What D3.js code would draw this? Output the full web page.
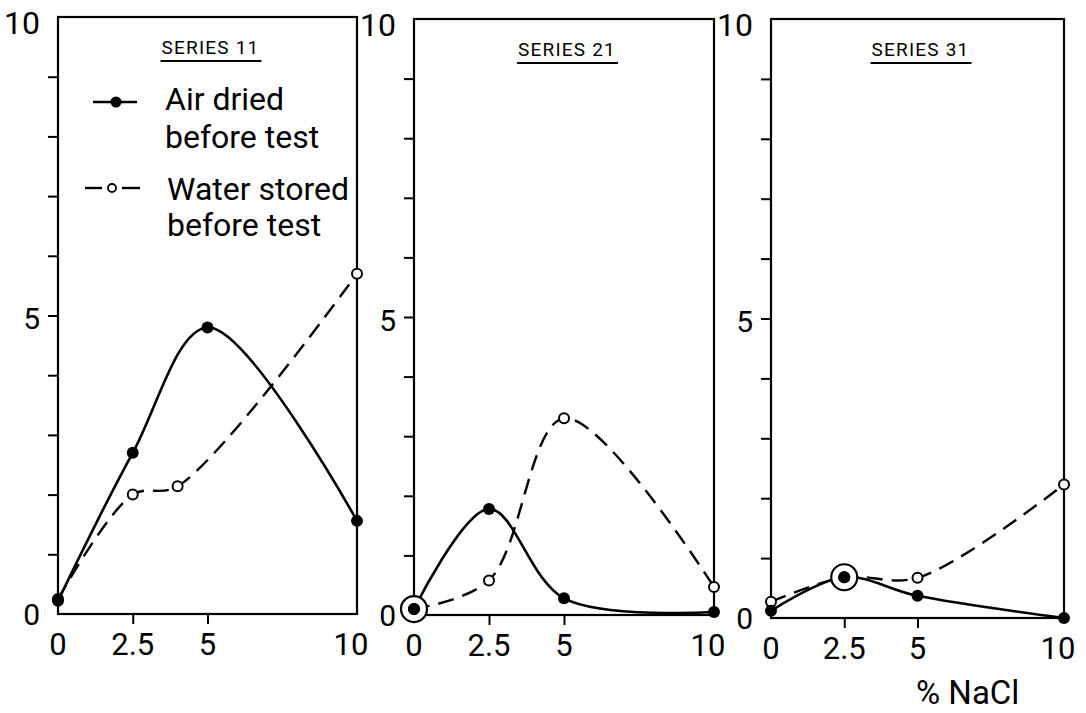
<!DOCTYPE html>
<html>
<head>
<meta charset="utf-8">
<script src="https://cdn.jsdelivr.net/npm/d3@7"></script>
<style>
  html, body { margin: 0; padding: 0; background: #fff; }
  svg { display: block; }
  text { font-family: Roboto, "DejaVu Sans", sans-serif; font-weight: 400; fill: #000; }
</style>
</head>
<body>
<svg id="chart" width="1086" height="713"></svg>
<script>
// ---- data ----
const nacl = [0, 2.5, 5, 10];
const xTickLabels = ["0", "2.5", "5", "10"];
const yTickLabels = ["0", "5", "10"];
const seriesNames = ["SERIES 11", "SERIES 21", "SERIES 31"];
const legendLabels = [["Air dried", "before test"], ["Water stored", "before test"]];
const xLabel = "% NaCl";

// Series 11
const s11AirX = [0, 2.5, 5, 10];
const s11Air = [0.22, 2.7, 4.8, 1.56];
const s11WaterX = [0, 2.5, 4, 10];
const s11Water = [0.25, 2.0, 2.14, 5.7];
// Series 21
const s21AirX = [0, 2.5, 5, 10];
const s21Air = [0.1, 1.78, 0.28, 0.05];
const s21WaterX = [0, 2.5, 5, 10];
const s21Water = [0.1, 0.58, 3.3, 0.47];
// Series 31
const s31AirX = [0, 2.5, 5, 10];
const s31Air = [0.12, 0.68, 0.37, 0.0];
const s31WaterX = [0, 2.5, 5, 10];
const s31Water = [0.27, 0.68, 0.67, 2.23];
// coincident points (drawn ringed)
const coincident = [[], [[0, 0.1]], [[2.5, 0.68]]];

const airX = [s11AirX, s21AirX, s31AirX];
const airY = [s11Air, s21Air, s31Air];
const waterX = [s11WaterX, s21WaterX, s31WaterX];
const waterY = [s11Water, s21Water, s31Water];

// ---- layout ----
const panels = [
  { x0: 58, x1: 357, y0: 614, y1: 17 },
  { x0: 414, x1: 714, y0: 615, y1: 19 },
  { x0: 771, x1: 1064, y0: 618, y1: 19 }
];

const svg = d3.select("#chart");

panels.forEach((p, i) => {
  const x = d3.scaleLinear().domain([0, 10]).range([p.x0, p.x1]);
  const y = d3.scaleLinear().domain([0, 10]).range([p.y0, p.y1]);
  const g = svg.append("g");

  // frame
  g.append("rect")
    .attr("x", x(0)).attr("y", y(10))
    .attr("width", x(10) - x(0)).attr("height", y(0) - y(10))
    .attr("fill", "none").attr("stroke", "#000").attr("stroke-width", 2.2);

  // y axis ticks (1..9)
  const yAxis = d3.axisLeft(y).tickValues(d3.range(1, 10)).tickSize(10).tickFormat("");
  const ya = g.append("g").attr("transform", `translate(${x(0)},0)`).call(yAxis);
  ya.select(".domain").remove();
  ya.selectAll(".tick line").attr("stroke", "#000").attr("stroke-width", 2);

  // y tick labels
  g.selectAll(".ylab").data(yTickLabels).enter().append("text")
    .attr("x", x(0) - 18)
    .attr("y", d => y(+d) + (d === "10" ? 6 : (d === "0" ? 0 : 3)))
    .attr("text-anchor", "end")
    .attr("dominant-baseline", "central")
    .attr("font-size", d => d === "10" ? 32 : 30)
    .text(d => d);

  // x axis ticks (2.5, 5)
  const xAxis = d3.axisBottom(x).tickValues([2.5, 5]).tickSize(9).tickFormat("");
  const xa = g.append("g").attr("transform", `translate(0,${y(0) + 1})`).call(xAxis);
  xa.select(".domain").remove();
  xa.selectAll(".tick line").attr("stroke", "#000").attr("stroke-width", 2);

  // x tick labels
  g.selectAll(".xlab").data(nacl).enter().append("text")
    .attr("x", (d) => x(d) - (d === 10 ? 6 : 0))
    .attr("y", y(0) + 30)
    .attr("text-anchor", "middle")
    .attr("dominant-baseline", "central")
    .attr("font-size", 31)
    .text((d, j) => xTickLabels[j]);

  // series title with underline
  const tx = (x(0) + x(10)) / 2 + 3;
  const t = g.append("text")
    .attr("x", tx).attr("y", y(10) + 37)
    .attr("text-anchor", "middle")
    .attr("font-size", 19)
    .attr("letter-spacing", 1.2)
    .text(seriesNames[i]);
  const bb = t.node().getBBox();
  g.append("line")
    .attr("x1", bb.x - 1).attr("x2", bb.x + bb.width + 2)
    .attr("y1", y(10) + 44).attr("y2", y(10) + 44)
    .attr("stroke", "#000").attr("stroke-width", 1.8);

  const line = d3.line().x(d => x(d[0])).y(d => y(d[1])).curve(d3.curveCatmullRom.alpha(0.5));

  const air = airX[i].map((v, j) => [v, airY[i][j]]);
  const water = waterX[i].map((v, j) => [v, waterY[i][j]]);

  g.append("path").datum(water).attr("d", line)
    .attr("fill", "none").attr("stroke", "#000").attr("stroke-width", 2.4)
    .attr("stroke-dasharray", "16,9");
  g.append("path").datum(air).attr("d", line)
    .attr("fill", "none").attr("stroke", "#000").attr("stroke-width", 2.6);

  // ring markers for coincident points
  g.selectAll(".ring").data(coincident[i]).enter().append("circle")
    .attr("cx", d => x(d[0])).attr("cy", d => y(d[1])).attr("r", 13)
    .attr("fill", "#fff").attr("stroke", "#000").attr("stroke-width", 2.2);

  // open markers
  g.selectAll(".open").data(water).enter().append("circle")
    .attr("cx", d => x(d[0])).attr("cy", d => y(d[1])).attr("r", 5)
    .attr("fill", "#fff").attr("stroke", "#000").attr("stroke-width", 2);
  // filled markers
  g.selectAll(".fill").data(air).enter().append("circle")
    .attr("cx", d => x(d[0])).attr("cy", d => y(d[1])).attr("r", 6)
    .attr("fill", "#000");
});

// legend (panel 1)
const lg = svg.append("g");
lg.append("line").attr("x1", 93).attr("x2", 137).attr("y1", 102).attr("y2", 102)
  .attr("stroke", "#000").attr("stroke-width", 2.6);
lg.append("circle").attr("cx", 116).attr("cy", 102).attr("r", 5.5).attr("fill", "#000");
lg.append("line").attr("x1", 85).attr("x2", 102).attr("y1", 188).attr("y2", 188)
  .attr("stroke", "#000").attr("stroke-width", 2.4);
lg.append("line").attr("x1", 122).attr("x2", 140).attr("y1", 188).attr("y2", 188)
  .attr("stroke", "#000").attr("stroke-width", 2.4);
lg.append("circle").attr("cx", 112).attr("cy", 188).attr("r", 4).attr("fill", "#fff")
  .attr("stroke", "#000").attr("stroke-width", 1.8);

const legendBaselines = [[110, 148], [200, 236]];
legendLabels.forEach((lines, k) => {
  lines.forEach((s, m) => {
    lg.append("text").attr("x", k === 0 ? 165 : 167).attr("y", legendBaselines[k][m])
      .attr("font-size", 32).text(s);
  });
});

svg.append("text").attr("x", 916).attr("y", 704).attr("font-size", 33).text(xLabel);
</script>
</body>
</html>
